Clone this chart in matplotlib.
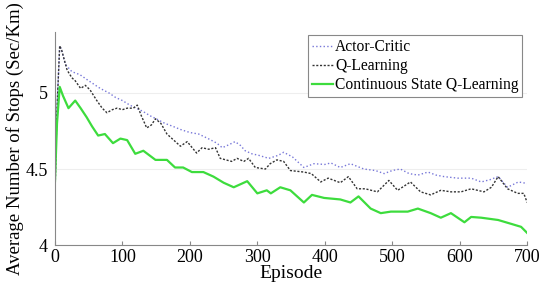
import matplotlib
matplotlib.use("Agg")
import matplotlib.pyplot as plt

plt.rcParams['font.family'] = ['Liberation Serif', 'DejaVu Serif']

# Actor-Critic
ac_ep = [0, 3, 7, 10, 15, 25, 37, 50, 67, 80, 90, 100, 111, 120, 130, 141, 150,
         163, 175, 186, 200, 213, 227, 240, 248, 258, 267, 275, 282, 292, 302,
         317, 331, 339, 352, 369, 384, 400, 409, 423, 438, 458, 475, 488, 500,
         512, 525, 538, 553, 565, 577, 597, 617, 632, 645, 657, 665, 671, 687, 700]
ac_val = [4.33, 4.9, 5.31, 5.28, 5.19, 5.14, 5.12, 5.08, 5.03, 5.0, 4.97, 4.95,
          4.92, 4.9, 4.88, 4.85, 4.83, 4.8, 4.78, 4.76, 4.74, 4.73, 4.7, 4.67,
          4.64, 4.66, 4.68, 4.655, 4.62, 4.6, 4.59, 4.57, 4.59, 4.61, 4.58, 4.51,
          4.535, 4.53, 4.54, 4.51, 4.535, 4.5, 4.49, 4.47, 4.49, 4.5, 4.47, 4.46,
          4.48, 4.46, 4.45, 4.44, 4.44, 4.415, 4.43, 4.45, 4.41, 4.38, 4.415, 4.405]

# Q-Learning
ql_ep = [0, 3, 7, 10, 18, 25, 30, 38, 45, 52, 62, 70, 77, 85, 92, 100, 107, 116,
         122, 128, 136, 143, 149, 157, 166, 176, 186, 196, 210, 218, 228, 238,
         245, 262, 270, 280, 287, 297, 312, 319, 329, 339, 349, 369, 380, 394,
         405, 423, 435, 448, 460, 478, 495, 508, 527, 542, 557, 572, 587, 602,
         617, 636, 647, 657, 671, 686, 695, 700]
ql_val = [4.33, 4.9, 5.31, 5.28, 5.15, 5.1, 5.08, 5.03, 5.05, 5.02, 4.95, 4.9,
          4.87, 4.89, 4.9, 4.89, 4.9, 4.9, 4.92, 4.85, 4.77, 4.79, 4.83, 4.8,
          4.73, 4.69, 4.65, 4.68, 4.605, 4.64, 4.63, 4.64, 4.57, 4.55, 4.57,
          4.55, 4.57, 4.51, 4.5, 4.535, 4.56, 4.55, 4.49, 4.48, 4.47, 4.415,
          4.44, 4.41, 4.45, 4.37, 4.37, 4.35, 4.425, 4.36, 4.415, 4.35, 4.33,
          4.36, 4.35, 4.35, 4.37, 4.35, 4.38, 4.45, 4.37, 4.34, 4.34, 4.28]

# Continuous State Q-Learning
cs_ep = [0, 3, 7, 12, 20, 30, 38, 47, 55, 64, 74, 86, 97, 107, 119, 131, 140,
         149, 166, 178, 190, 203, 220, 235, 250, 265, 285, 300, 314, 320, 334,
         349, 369, 381, 399, 423, 438, 450, 468, 483, 498, 523, 538, 557, 572,
         587, 607, 617, 632, 657, 676, 691, 700]
cs_val = [4.42, 4.8, 5.04, 4.98, 4.9, 4.95, 4.9, 4.84, 4.78, 4.72, 4.73, 4.67,
          4.7, 4.69, 4.6, 4.62, 4.59, 4.56, 4.56, 4.51, 4.51, 4.48, 4.48, 4.45,
          4.41, 4.38, 4.42, 4.34, 4.36, 4.34, 4.38, 4.36, 4.28, 4.33, 4.31, 4.3,
          4.28, 4.32, 4.24, 4.21, 4.22, 4.22, 4.24, 4.21, 4.18, 4.21, 4.15,
          4.185, 4.18, 4.165, 4.14, 4.12, 4.08]

fig = plt.figure(figsize=(5.39, 2.84), dpi=100)
ax = fig.add_axes([0.102, 0.137, 0.876, 0.75])

ax.plot(ac_ep, ac_val, color='#7777d8', linestyle=':', linewidth=1.0, label='Actor-Critic')
ax.plot(ql_ep, ql_val, color='#333333', linestyle=(0, (1.5, 1.2)), linewidth=1.0, label='Q-Learning')
ax.plot(cs_ep, cs_val, color='#3ddc3d', linestyle='-', linewidth=1.6, label='Continuous State Q-Learning')

ax.set_xlim(0, 700)
ax.set_ylim(4, 5.4)
ax.set_xticks([0, 100, 200, 300, 400, 500, 600, 700])
ax.set_yticks([4, 4.5, 5])
ax.set_yticklabels(['4', '4.5', '5'])
ax.yaxis.grid(True, color='#eeeeee', linewidth=0.8)
ax.set_axisbelow(True)

for s in ['top', 'right']:
    ax.spines[s].set_visible(False)
for s in ['left', 'bottom']:
    ax.spines[s].set_color('#888888')
    ax.spines[s].set_linewidth(0.8)

ax.tick_params(axis='x', direction='in', length=3, color='#888888', labelsize=13, pad=3)
ax.tick_params(axis='y', length=0, labelsize=13, pad=5)

ax.set_xlabel('Episode', fontsize=14, labelpad=-1)
ax.set_ylabel('Average Number of Stops (Sec/Km)', fontsize=13.5, labelpad=1)

leg = ax.legend(loc='upper right', bbox_to_anchor=(0.99, 0.986), fontsize=11.2,
                handlelength=1.4, handletextpad=0.1, borderpad=0.25,
                borderaxespad=0, labelspacing=0.2, fancybox=False, framealpha=1)
leg.get_frame().set_edgecolor('#888888')
leg.get_frame().set_linewidth(0.8)

fig.savefig('out.png', dpi=100)
